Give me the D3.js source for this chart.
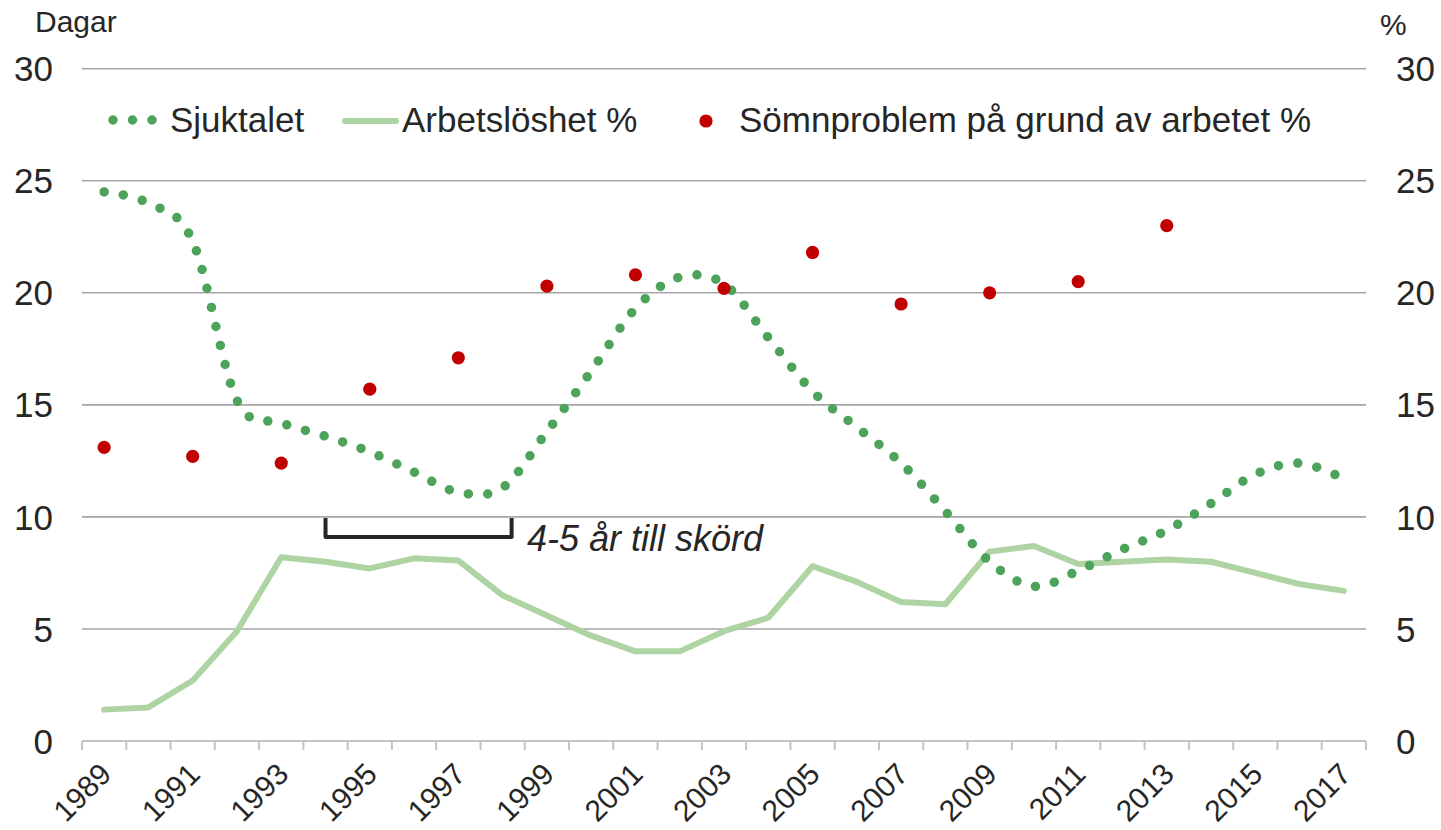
<!DOCTYPE html>
<html>
<head>
<meta charset="utf-8">
<title>Sjuktalet och arbetslöshet</title>
<script src="https://cdn.jsdelivr.net/npm/d3@7"></script>
<style>
  body { margin: 0; background: #fff; }
  svg text { font-family: "Liberation Sans", Arial, sans-serif; fill: #262626; }
</style>
</head>
<body>
<svg id="chart" width="1441" height="830"></svg>
<script>
// data
var years = d3.range(1989, 2018);
var sjuktalet = [24.5, 24.0, 22.3, 15.2, 14.2, 13.6, 12.9, 12.0, 11.1, 11.3,
                 13.8, 16.5, 19.3, 20.7, 20.4, 18.0, 15.6, 14.0, 12.4, 10.25,
                 8.0, 6.9, 7.6, 8.55, 9.4, 10.6, 11.9, 12.4, 11.7];
var arbetsloshet = [1.4, 1.5, 2.7, 4.9, 8.2, 8.0, 7.7, 8.15, 8.05, 6.5,
                    5.6, 4.7, 4.0, 4.0, 4.9, 5.5, 7.8, 7.1, 6.2, 6.1,
                    8.45, 8.7, 7.9, 8.0, 8.1, 8.0, 7.5, 7.0, 6.7];
var somnYears = [1989, 1991, 1993, 1995, 1997, 1999, 2001, 2003, 2005, 2007, 2009, 2011, 2013];
var somnproblem = [13.1, 12.7, 12.4, 15.7, 17.1, 20.3, 20.8, 20.2, 21.8, 19.5, 20.0, 20.5, 23.0];
var yTicks = [0, 5, 10, 15, 20, 25, 30];
var xLabelYears = years.filter(function(y) { return (y - 1989) % 2 == 0; });

var svg = d3.select("#chart");
var plotLeft = 82, plotRight = 1366, plotTop = 68.7, plotBottom = 741;

var x = d3.scaleBand().domain(years).range([plotLeft, plotRight]);
var y = d3.scaleLinear().domain([0, 30]).range([plotBottom, plotTop]);
var cx = function(yr) { return x(yr) + x.bandwidth() / 2; };

// gridlines
svg.append("g")
  .selectAll("line")
  .data(yTicks.filter(function(d) { return d > 0; }))
  .enter().append("line")
  .attr("x1", plotLeft).attr("x2", plotRight)
  .attr("y1", function(d) { return y(d); })
  .attr("y2", function(d) { return y(d); })
  .attr("stroke", "#a6a6a6")
  .attr("stroke-width", 1.6);

// x axis
var xAxis = svg.append("g")
  .attr("transform", "translate(0," + plotBottom + ")");
xAxis.append("line")
  .attr("x1", plotLeft).attr("x2", plotRight)
  .attr("stroke", "#c4c4c4").attr("stroke-width", 2);
xAxis.selectAll(".tk")
  .data(years.concat([2018]))
  .enter().append("line")
  .attr("x1", function(d) { return d == 2018 ? plotRight : x(d); })
  .attr("x2", function(d) { return d == 2018 ? plotRight : x(d); })
  .attr("y1", 0).attr("y2", 9)
  .attr("stroke", "#c4c4c4").attr("stroke-width", 2);

svg.append("g")
  .selectAll("text")
  .data(xLabelYears)
  .enter().append("text")
  .attr("transform", function(d) { return "translate(" + (cx(d) + 9) + ",776) rotate(-45)"; })
  .attr("text-anchor", "end")
  .style("font-size", "30px")
  .text(function(d) { return d; });

// y labels, both sides
svg.append("g")
  .selectAll("text")
  .data(yTicks)
  .enter().append("text")
  .attr("x", 53)
  .attr("y", function(d) { return y(d); })
  .attr("dy", "0.36em")
  .attr("text-anchor", "end")
  .style("font-size", "35px")
  .text(function(d) { return d; });

svg.append("g")
  .selectAll("text")
  .data(yTicks)
  .enter().append("text")
  .attr("x", 1396)
  .attr("y", function(d) { return y(d); })
  .attr("dy", "0.36em")
  .attr("text-anchor", "start")
  .style("font-size", "35px")
  .text(function(d) { return d; });

svg.append("text").attr("x", 35).attr("y", 32).style("font-size", "30px").text("Dagar");
svg.append("text").attr("x", 1380).attr("y", 35).style("font-size", "30px").text("%");

// Arbetslöshet
svg.append("path")
  .datum(arbetsloshet)
  .attr("fill", "none")
  .attr("stroke", "#aed4a3")
  .attr("stroke-width", 6)
  .attr("stroke-linejoin", "round")
  .attr("stroke-linecap", "round")
  .attr("d", d3.line()
    .x(function(d, i) { return cx(years[i]); })
    .y(function(d) { return y(d); }));

// Sjuktalet (smoothed, round dots)
svg.append("path")
  .datum(sjuktalet)
  .attr("fill", "none")
  .attr("stroke", "#4ea35a")
  .attr("stroke-width", 9.5)
  .attr("stroke-linecap", "round")
  .attr("stroke-dasharray", "0 19.5")
  .attr("d", d3.line()
    .curve(d3.curveCatmullRom.alpha(0))
    .x(function(d, i) { return cx(years[i]); })
    .y(function(d) { return y(d); }));

// Sömnproblem
svg.append("g")
  .selectAll("circle")
  .data(somnproblem)
  .enter().append("circle")
  .attr("cx", function(d, i) { return cx(somnYears[i]); })
  .attr("cy", function(d) { return y(d); })
  .attr("r", 6.6)
  .attr("fill", "#c00000");

// bracket annotation
var bx1 = cx(1994), bx2 = cx(1998) + 9, by1 = y(10) + 1, by2 = y(10) + 20;
svg.append("path")
  .attr("d", "M" + bx1 + "," + by1 + " L" + bx1 + "," + by2 + " L" + bx2 + "," + by2 + " L" + bx2 + "," + by1)
  .attr("fill", "none")
  .attr("stroke", "#262626")
  .attr("stroke-width", 4)
  .attr("stroke-linejoin", "round");
svg.append("text")
  .attr("x", 527).attr("y", 551)
  .style("font-size", "36px")
  .style("font-style", "italic")
  .text("4-5 år till skörd");

// legend
var legY = 120, legBase = 132;
svg.append("line")
  .attr("x1", 113).attr("x2", 152.5)
  .attr("y1", legY).attr("y2", legY)
  .attr("stroke", "#4ea35a").attr("stroke-width", 9.5)
  .attr("stroke-linecap", "round").attr("stroke-dasharray", "0 19.5");
svg.append("text").attr("x", 170).attr("y", legBase).style("font-size", "35px").text("Sjuktalet");

svg.append("line")
  .attr("x1", 345).attr("x2", 396)
  .attr("y1", legY + 1).attr("y2", legY + 1)
  .attr("stroke", "#aed4a3").attr("stroke-width", 6)
  .attr("stroke-linecap", "round");
svg.append("text").attr("x", 402).attr("y", legBase).style("font-size", "35px").text("Arbetslöshet %");

svg.append("circle").attr("cx", 706).attr("cy", legY + 1).attr("r", 6.6).attr("fill", "#c00000");
svg.append("text").attr("x", 739).attr("y", legBase).style("font-size", "35px").text("Sömnproblem på grund av arbetet %");
</script>
</body>
</html>
